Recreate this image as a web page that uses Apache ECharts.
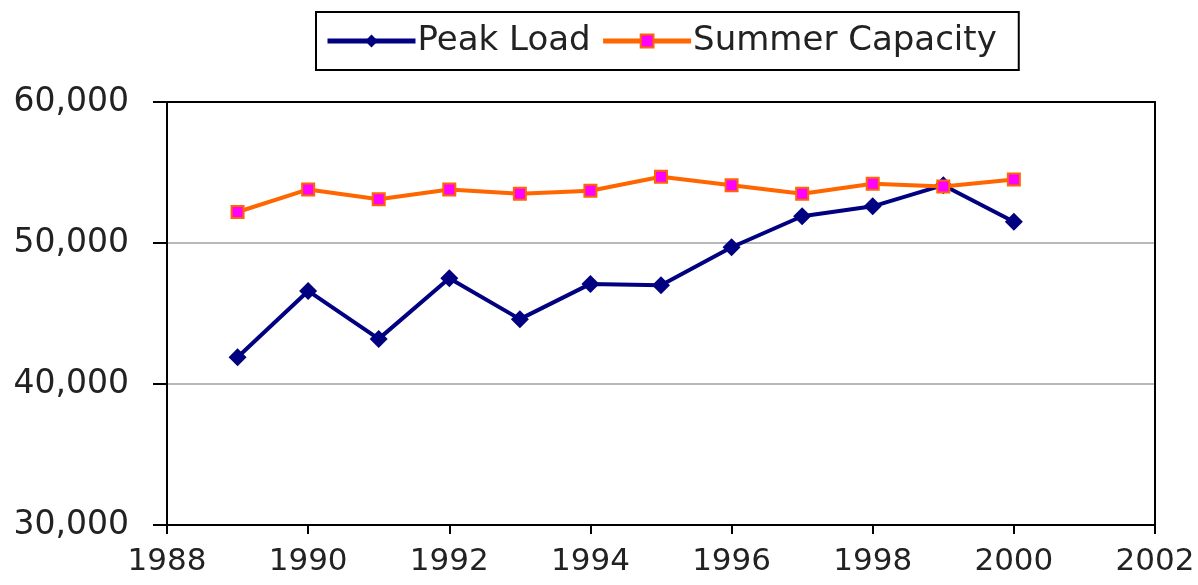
<!DOCTYPE html>
<html>
<head>
<meta charset="utf-8">
<script src="https://cdn.jsdelivr.net/npm/echarts@6/dist/echarts.min.js"></script>
<style>
  html, body { margin: 0; padding: 0; background: #fff; }
  #chart { width: 1198px; height: 585px; }
</style>
</head>
<body>
<div id="chart"></div>
<script>
var years = [1989, 1990, 1991, 1992, 1993, 1994, 1995, 1996, 1997, 1998, 1999, 2000];
var peakLoad = [41900, 46600, 43200, 47500, 44600, 47100, 47000, 49700, 51900, 52600, 54100, 51500];
var summerCapacity = [52200, 53800, 53100, 53800, 53500, 53700, 54700, 54100, 53500, 54200, 54000, 54500];

function pairs(vals) {
    return years.map(function (y, i) { return [y, vals[i]]; });
}

var font = 'DejaVu Sans, sans-serif';

var option = {
    backgroundColor: '#fff',
    animation: false,
    legend: {
        top: 12,
        left: 316,
        padding: [12, 22, 12, 9],
        borderColor: '#000',
        borderWidth: 2,
        itemWidth: 88,
        itemHeight: 16,
        itemGap: 10,
        lineStyle: { width: 5 },
        textStyle: { fontFamily: font, fontSize: 34, color: '#222', padding: [0, 0, 0, -3] },
        data: ['Peak Load', 'Summer Capacity']
    },
    grid: { left: 167, right: 43, top: 102, bottom: 60 },
    xAxis: [{
        type: 'value',
        min: 1988,
        max: 2002,
        interval: 2,
        axisLine: { lineStyle: { color: '#000', width: 2 } },
        axisTick: { show: true, inside: false, length: 9, lineStyle: { color: '#000', width: 2 } },
        axisLabel: {
            fontFamily: font, fontSize: 31, color: '#222', margin: 21,
            formatter: function (v) { return String(v); }
        },
        splitLine: { show: false }
    }, {
        type: 'value',
        position: 'top',
        min: 1988,
        max: 2002,
        axisLine: { show: true, lineStyle: { color: '#000', width: 2 } },
        axisTick: { show: false },
        axisLabel: { show: false },
        splitLine: { show: false }
    }],
    yAxis: [{
        type: 'value',
        min: 30000,
        max: 60000,
        interval: 10000,
        axisLine: { show: true, lineStyle: { color: '#000', width: 2 } },
        axisTick: { show: true, inside: false, length: 14, lineStyle: { color: '#000', width: 2 } },
        axisLabel: {
            fontFamily: font, fontSize: 33, color: '#222', margin: 38,
            formatter: function (v) { return v.toLocaleString('en-US'); }
        },
        splitLine: { show: true, lineStyle: { color: '#a0a0a0', width: 1.5 } }
    }, {
        type: 'value',
        position: 'right',
        min: 30000,
        max: 60000,
        axisLine: { show: true, lineStyle: { color: '#000', width: 2 } },
        axisTick: { show: false },
        axisLabel: { show: false },
        splitLine: { show: false }
    }],
    series: [{
        name: 'Peak Load',
        type: 'line',
        data: pairs(peakLoad),
        symbol: 'diamond',
        symbolSize: 18,
        lineStyle: { color: '#000080', width: 4 },
        itemStyle: { color: '#000080' },
        z: 3
    }, {
        name: 'Summer Capacity',
        type: 'line',
        data: pairs(summerCapacity),
        symbol: 'rect',
        symbolSize: 12,
        lineStyle: { color: '#ff6600', width: 4 },
        itemStyle: { color: '#ff00ff', borderColor: '#ff6600', borderWidth: 2 },
        z: 4
    }]
};

var chart = echarts.init(document.getElementById('chart'));
chart.setOption(option);
</script>
</body>
</html>
